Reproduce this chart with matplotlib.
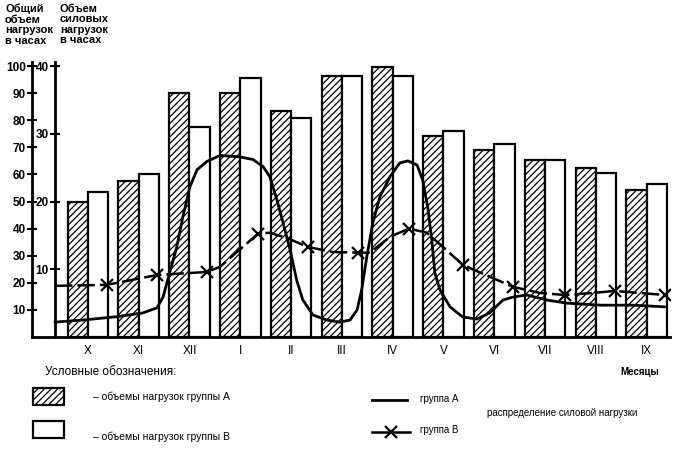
import matplotlib
matplotlib.use("Agg")
import matplotlib.pyplot as plt
from matplotlib.patches import Rectangle
from matplotlib.lines import Line2D

plt.rcParams['font.family'] = ['Liberation Sans', 'DejaVu Sans']
plt.rcParams['hatch.linewidth'] = 0.9

# Данные
months = ["X", "XI", "XII", "I", "II", "III", "IV", "V", "VI", "VII", "VIII", "IX"]
total_a = [50, 57.5, 90, 90, 83.5, 96.3, 99.6, 74.3, 69.2, 65.3, 62.4, 54.3]
total_b = [53.7, 60, 77.6, 95.6, 81, 96.3, 96.3, 76.2, 71.4, 65.3, 60.7, 56.5]

# распределение силовой нагрузки, группа А (плавная кривая)
power_a_x = [-0.65, -0.10, 0.57, 1.08, 1.36, 1.48, 1.61, 1.75, 1.87, 2.01, 2.15, 2.34,
             2.60, 2.99, 3.25, 3.45, 3.58, 3.72, 3.84, 3.98, 4.11, 4.23, 4.43, 4.71,
             4.96, 5.16, 5.30, 5.39, 5.49, 5.61, 5.75, 5.95, 6.14, 6.30, 6.48, 6.59,
             6.69, 6.77, 6.83, 6.93, 7.13, 7.38, 7.66, 7.91, 8.17, 8.37, 8.64, 9.04,
             9.43, 10.08, 10.73, 11.36]
power_a_y = [2.2, 2.5, 3.0, 3.55, 4.3, 5.9, 9.5, 13.3, 17.75, 22.2, 24.7, 25.9,
             26.8, 26.6, 26.2, 25.15, 23.7, 20.3, 16.9, 12.9, 8.4, 5.5, 3.25, 2.5,
             2.2, 2.5, 4.0, 6.95, 11.8, 16.9, 20.7, 23.7, 25.7, 26.0, 25.4, 23.2,
             19.2, 14.35, 9.5, 6.95, 4.45, 2.95, 2.65, 3.55, 5.45, 5.9, 6.2, 5.45,
             5.0, 4.7, 4.7, 4.45]

# группа В (линия с крестиками)
power_b_x = [-0.65, 0.37, 1.36, 2.34, 2.60, 2.99, 3.25, 3.35, 3.58, 3.92, 4.33, 4.82,
             5.32, 5.55, 5.95, 6.32, 6.67, 6.99, 7.38, 7.91, 8.37, 8.90, 9.39, 9.94,
             10.37, 10.87, 11.36]
power_b_y = [7.55, 7.7, 9.15, 9.6, 10.35, 12.9, 14.6, 15.25, 15.4, 14.6, 13.3, 12.55,
             12.45, 12.45, 14.8, 16.0, 15.4, 13.3, 10.65, 8.9, 7.4, 6.5, 6.2, 6.5,
             6.8, 6.5, 6.2]
b_marks = [1, 2, 3, 7, 10, 12, 15, 18, 20, 22, 24, 26]

left_ticks = [10, 20, 30, 40, 50, 60, 70, 80, 90, 100]
right_ticks = [10, 20, 30, 40]

fig = plt.figure(figsize=(6.78, 4.55), dpi=100)
ax = fig.add_axes([32 / 678, 118 / 455, 638 / 678, 275 / 455])

x = list(range(len(months)))
w = 0.4
ax.bar([i - w / 2 for i in x], total_a, width=w, facecolor="white",
       edgecolor="black", hatch="/////", linewidth=1.6, zorder=2)
ax.bar([i + w / 2 for i in x], total_b, width=w, facecolor="white",
       edgecolor="black", linewidth=1.6, zorder=2)

ax.set_xlim(-1.10, 11.46)
ax.set_ylim(0, 101.5)
ax.set_xticks(x)
ax.set_xticklabels(months, fontsize=8.5)
ax.tick_params(axis="x", length=0, pad=6)
ax.set_yticks(left_ticks)
ax.tick_params(axis="y", direction="inout", length=7, width=1.5, labelsize=8.5, pad=1)
for lab in ax.get_yticklabels():
    lab.set_fontweight("bold")
for s in ["top", "right"]:
    ax.spines[s].set_visible(False)
ax.spines["left"].set_linewidth(2)
ax.spines["bottom"].set_linewidth(2)

ax2 = ax.twinx()
ax2.set_ylim(0, 40.6)
for s in ["top", "right", "bottom"]:
    ax2.spines[s].set_visible(False)
ax2.spines["left"].set_visible(True)
ax2.spines["left"].set_position(("data", -0.65))
ax2.spines["left"].set_linewidth(2)
ax2.yaxis.set_ticks_position("left")
ax2.set_yticks(right_ticks)
ax2.tick_params(axis="y", direction="inout", length=7, width=1.5, labelsize=8.5, pad=1)
for lab in ax2.get_yticklabels():
    lab.set_fontweight("bold")

ax2.plot(power_a_x, power_a_y, color="black", linewidth=2, zorder=3,
         solid_joinstyle="round", solid_capstyle="round")
ax2.plot(power_b_x, power_b_y, color="black", linewidth=1.8, dashes=(7, 2),
         dash_joinstyle="round", marker="x", markersize=8, markeredgewidth=1.6,
         markevery=b_marks, zorder=3)

# подписи осей
fig.text(5 / 678, 1 - 4 / 455, "Общий\nобъем\nнагрузок\nв часах", fontsize=8,
         fontweight="bold", va="top", ha="left", linespacing=1.05)
fig.text(60 / 678, 1 - 4 / 455, "Объем\nсиловых\nнагрузок\nв часах", fontsize=8,
         fontweight="bold", va="top", ha="left", linespacing=1.05)

# легенда
fig.text(640 / 678, 1 - 372 / 455, "Месяцы", fontsize=7, fontweight="bold", ha="center", va="center")
fig.text(45 / 678, 1 - 372 / 455, "Условные обозначения:", fontsize=8.5, ha="left", va="center")

fig.patches.append(Rectangle((33 / 678, 1 - 405 / 455), 31 / 678, 17 / 455, transform=fig.transFigure,
                             facecolor="white", edgecolor="black", hatch="/////", linewidth=1.6))
fig.patches.append(Rectangle((33 / 678, 1 - 438 / 455), 31 / 678, 17 / 455, transform=fig.transFigure,
                             facecolor="white", edgecolor="black", linewidth=1.6))
fig.text(93 / 678, 1 - 397 / 455, "– объемы нагрузок группы А", fontsize=7.5, ha="left", va="center")
fig.text(93 / 678, 1 - 437 / 455, "– объемы нагрузок группы В", fontsize=7.5, ha="left", va="center")

fig.lines.append(Line2D([372 / 678, 407 / 678], [1 - 400 / 455, 1 - 400 / 455], transform=fig.transFigure,
                        color="black", linewidth=2))
fig.lines.append(Line2D([372 / 678, 410 / 678], [1 - 432 / 455, 1 - 432 / 455], transform=fig.transFigure,
                        color="black", linewidth=1.8))
fig.lines.append(Line2D([391 / 678], [1 - 432 / 455], transform=fig.transFigure,
                        color="black", marker="x", markersize=9, markeredgewidth=1.6))
fig.text(420 / 678, 1 - 399 / 455, "группа А", fontsize=7, ha="left", va="center")
fig.text(420 / 678, 1 - 430 / 455, "группа В", fontsize=7, ha="left", va="center")
fig.text(487 / 678, 1 - 413 / 455, "распределение силовой нагрузки", fontsize=7, ha="left", va="center")

fig.savefig("out.png", dpi=100)
